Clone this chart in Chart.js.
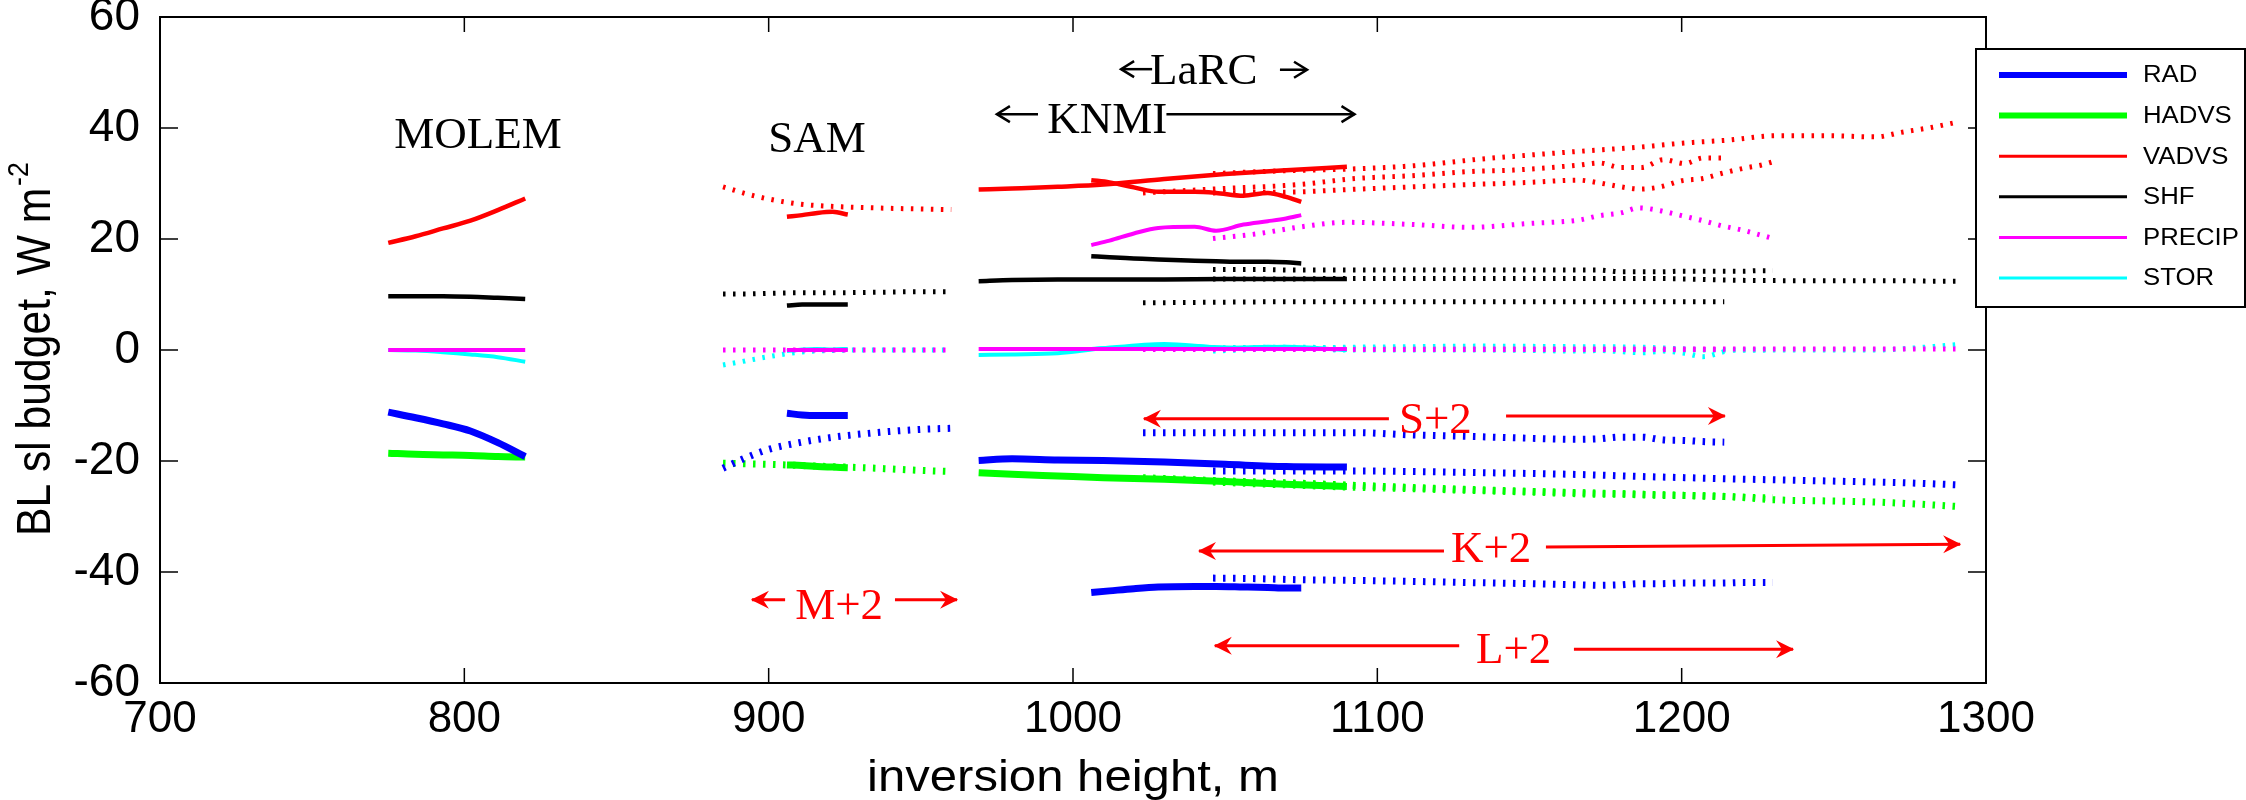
<!DOCTYPE html>
<html>
<head>
<meta charset="utf-8">
<script src="https://cdn.jsdelivr.net/npm/chart.js@4.4.1/dist/chart.umd.min.js"></script>
<style>
  html, body { margin: 0; padding: 0; background: #fff; }
  #wrap { width: 2246px; height: 800px; }
</style>
</head>
<body>
<div id="wrap"><canvas id="myChart"></canvas></div>
<script>
// inversion height (m) of each run and its budget terms (W m-2)
var molemX      = [775, 784, 793, 802, 811, 820];
var molemRAD    = [-11.2, -12.2, -13.3, -14.6, -16.7, -19.2];
var molemHADVS  = [-18.6, -18.8, -18.9, -19.0, -19.2, -19.3];
var molemVADVS  = [19.3, 20.5, 21.9, 23.3, 25.2, 27.3];
var molemSHF    = [9.7, 9.7, 9.7, 9.6, 9.4, 9.2];
var molemPRECIP = [0, 0, 0, 0, 0, 0];
var molemSTOR   = [0, -0.1, -0.4, -0.8, -1.3, -2.1];

var samX      = [906, 911, 916, 921, 926];
var samRAD    = [-11.4, -11.7, -11.8, -11.8, -11.8];
var samHADVS  = [-20.7, -20.8, -21.0, -21.1, -21.2];
var samVADVS  = [24.0, 24.3, 24.7, 24.9, 24.4];
var samSHF    = [8.0, 8.2, 8.2, 8.2, 8.2];
var samPRECIP = [0, 0, 0, 0, 0];
var samSTOR   = [-0.2, 0.1, 0.2, 0.1, 0.2];

var knmiX      = [969, 980, 995, 1010, 1030, 1050, 1070, 1090];
var knmiRAD    = [-19.9, -19.6, -19.8, -19.9, -20.2, -20.6, -21.0, -21.1];
var knmiHADVS  = [-22.1, -22.4, -22.7, -23.0, -23.3, -23.7, -24.2, -24.6];
var knmiVADVS  = [28.9, 29.1, 29.4, 29.8, 30.8, 31.7, 32.4, 33.0];
var knmiSHF    = [12.4, 12.6, 12.7, 12.7, 12.7, 12.8, 12.8, 12.8];
var knmiPRECIP = [0.2, 0.2, 0.2, 0.2, 0.2, 0.2, 0.2, 0.2];
var knmiSTOR   = [-0.9, -0.8, -0.6, 0.3, 1.1, 0.4, 0.6, 0.0];

var larcX      = [1006, 1012, 1020, 1028, 1040, 1047, 1056, 1064, 1070, 1075];
var larcRAD    = [-43.7, -43.4, -43.0, -42.7, -42.6, -42.6, -42.7, -42.8, -42.9, -42.9];
var larcVADVS  = [30.6, 30.2, 29.3, 28.5, 28.5, 28.3, 27.8, 28.3, 27.6, 26.7];
var larcSHF    = [16.9, 16.7, 16.5, 16.3, 16.1, 16.0, 15.9, 15.9, 15.8, 15.6];
var larcPRECIP = [18.9, 19.7, 21.0, 22.0, 22.2, 21.5, 22.6, 23.2, 23.7, 24.3];
var larcSTOR   = [0.2, 0.4, 0.6, 0.8, 0.7, 0.5, 0.4, 0.6, 0.5, 0.3];

// the +2 runs (dotted)
var m2X      = [885, 893, 900, 910, 920, 935, 950, 960];
var m2RAD    = [-21.3, -19.3, -17.9, -16.7, -15.8, -14.9, -14.3, -14.1];
var m2HADVS  = [-20.4, -20.5, -20.6, -20.8, -21.0, -21.3, -21.7, -21.9];
var m2VADVS  = [29.4, 28.1, 27.2, 26.3, 25.9, 25.6, 25.4, 25.3];
var m2SHF    = [10.1, 10.1, 10.2, 10.3, 10.3, 10.4, 10.5, 10.5];
var m2PRECIP = [0, 0, 0, 0, 0, 0, 0, 0];
var m2STOR   = [-2.7, -1.9, -1.2, -0.4, -0.1, 0, 0, 0];

var s2X      = [1023, 1046, 1074, 1093, 1111, 1132, 1144, 1166, 1173, 1180, 1187, 1194, 1201, 1207, 1214];
var s2RAD    = [-14.9, -14.9, -14.9, -14.9, -15.3, -15.6, -15.8, -16.1, -16.0, -15.7, -15.7, -16.2, -16.3, -16.5, -16.6];
var s2HADVS  = [-23.0, -23.5, -24.0, -24.4, -24.8, -25.2, -25.4, -25.7, -25.8, -25.9, -26.0, -26.1, -26.2, -26.3, -26.4];
var s2VADVS  = [28.3, 29.0, 29.8, 30.9, 31.4, 32.2, 32.4, 33.3, 33.7, 32.9, 32.9, 34.3, 33.6, 34.6, 34.6];
var s2SHF    = [8.5, 8.6, 8.7, 8.7, 8.7, 8.7, 8.7, 8.7, 8.7, 8.7, 8.7, 8.7, 8.7, 8.7, 8.7];
var s2PRECIP = [0.1, 0.1, 0.1, 0.1, 0.1, 0.1, 0.1, 0.1, 0.1, 0.1, 0.1, 0.1, 0.1, 0.1, 0.1];
var s2STOR   = [0.3, 0.4, 0.5, 0.3, 0.2, 0.1, 0, -0.2, -0.1, -0.3, -0.5, -0.2, -0.6, -1.2, -0.3];

var k2X      = [1046, 1070, 1091, 1112, 1134, 1164, 1187, 1201, 1215, 1231, 1248, 1264, 1272, 1282, 1291];
var k2RAD    = [-21.8, -21.8, -21.8, -21.9, -22.1, -22.4, -22.8, -23.0, -23.2, -23.4, -23.6, -23.8, -23.9, -24.1, -24.3];
var k2HADVS  = [-23.6, -24.0, -24.4, -24.8, -25.2, -25.7, -26.0, -26.2, -26.4, -27.0, -27.2, -27.4, -27.6, -27.9, -28.2];
var k2VADVS  = [31.8, 32.3, 32.6, 33.2, 34.4, 35.7, 36.6, 37.3, 37.8, 38.6, 38.6, 38.4, 39.2, 40.1, 41.1];
var k2SHF    = [12.8, 12.8, 12.9, 12.9, 12.9, 12.9, 12.9, 12.8, 12.6, 12.5, 12.5, 12.5, 12.5, 12.4, 12.4];
var k2PRECIP = [0.2, 0.2, 0.2, 0.2, 0.2, 0.2, 0.2, 0.2, 0.2, 0.2, 0.2, 0.2, 0.2, 0.2, 0.2];
var k2STOR   = [-0.2, 0.3, 0.5, 0.6, 0.7, 0.6, 0.5, 0.2, 0, 0, 0, 0, 0.2, 0.6, 1.0];

var l2X      = [1046, 1060, 1075, 1090, 1112, 1130, 1150, 1166, 1173, 1180, 1186, 1193, 1200, 1207, 1213, 1220, 1226, 1230];
var l2RAD    = [-41.1, -41.2, -41.4, -41.5, -41.7, -41.9, -42.1, -42.3, -42.4, -42.3, -42.1, -42.1, -42.0, -42.0, -42.0, -41.9, -41.9, -41.9];
var l2HADVS  = [-23.8, -24.1, -24.4, -24.7, -25.0, -25.3, -25.6, -25.9, -26.0, -26.0, -26.1, -26.2, -26.2, -26.3, -26.4, -26.5, -26.6, -26.6];
var l2VADVS  = [28.3, 28.4, 28.5, 28.9, 29.4, 29.8, 30.2, 30.6, 30.1, 29.4, 29.0, 29.4, 30.5, 30.9, 31.8, 32.7, 33.3, 33.9];
var l2SHF    = [14.5, 14.5, 14.4, 14.4, 14.4, 14.4, 14.4, 14.4, 14.4, 14.1, 14.1, 14.1, 14.2, 14.2, 14.2, 14.2, 14.3, 14.3];
var l2PRECIP = [20.1, 20.9, 22.2, 23.0, 22.6, 22.1, 22.8, 23.4, 24.2, 24.7, 25.6, 25.1, 24.2, 23.3, 22.4, 21.6, 20.7, 20.1];
var l2STOR   = [0.3, 0.4, 0.2, 0, 0, 0, 0, 0, 0, 0, 0, 0, 0, 0, 0, 0, 0, 0.1];

var terms = ['RAD', 'HADVS', 'VADVS', 'SHF', 'PRECIP', 'STOR'];
var xTicks = [700, 800, 900, 1000, 1100, 1200, 1300];
var yTicks = [-60, -40, -20, 0, 20, 40, 60];

var termColors = ["#0000ff", "#00ff00", "#ff0000", "#000000", "#ff00ff", "#00ffff"];
var solidWidths = [7, 7, 4.5, 4.5, 4, 4];
var dotWidths = [7, 7, 5, 5, 5, 5];

var solidRuns = [
  [molemX, [molemRAD, molemHADVS, molemVADVS, molemSHF, molemPRECIP, molemSTOR]],
  [samX, [samRAD, samHADVS, samVADVS, samSHF, samPRECIP, samSTOR]],
  [knmiX, [knmiRAD, knmiHADVS, knmiVADVS, knmiSHF, knmiPRECIP, knmiSTOR]],
  [larcX, [larcRAD, null, larcVADVS, larcSHF, larcPRECIP, larcSTOR]]
];
var dottedRuns = [
  [m2X, [m2RAD, m2HADVS, m2VADVS, m2SHF, m2PRECIP, m2STOR]],
  [s2X, [s2RAD, s2HADVS, s2VADVS, s2SHF, s2PRECIP, s2STOR]],
  [k2X, [k2RAD, k2HADVS, k2VADVS, k2SHF, k2PRECIP, k2STOR]],
  [l2X, [l2RAD, l2HADVS, l2VADVS, l2SHF, l2PRECIP, l2STOR]]
];

function pairs(xs, ys) {
  return xs.map(function (x, i) { return { x: x, y: ys[i] }; });
}

var datasets = [];
solidRuns.forEach(function (run) {
  run[1].forEach(function (vals, t) {
    if (!vals) return;
    datasets.push({
      label: terms[t], data: pairs(run[0], vals), showLine: true,
      borderColor: termColors[t], borderWidth: solidWidths[t],
      pointRadius: 0, cubicInterpolationMode: 'monotone'
    });
  });
});
dottedRuns.forEach(function (run) {
  run[1].forEach(function (vals, t) {
    datasets.push({
      label: terms[t] + ' +2', data: pairs(run[0], vals), showLine: true,
      borderColor: termColors[t], borderWidth: dotWidths[t],
      borderDash: [2.5, 7.5],
      pointRadius: 0, cubicInterpolationMode: 'monotone'
    });
  });
});

// labels and arrows, in data units
var labels = [
  { text: 'MOLEM', x: 804.5, y: 36.4, align: 'center', color: '#000' },
  { text: 'SAM', x: 915.9, y: 35.7, align: 'center', color: '#000' },
  { text: 'KNMI', x: 991.5, y: 39.1, align: 'left', color: '#000' },
  { text: 'LaRC', x: 1025.3, y: 47.9, align: 'left', color: '#000' },
  { text: 'S+2', x: 1107.1, y: -15.0, align: 'left', color: '#ff0000' },
  { text: 'K+2', x: 1124.2, y: -38.2, align: 'left', color: '#ff0000' },
  { text: 'L+2', x: 1132.4, y: -56.4, align: 'left', color: '#ff0000' },
  { text: 'M+2', x: 908.7, y: -48.5, align: 'left', color: '#ff0000' }
];
// [tail x, tail y, tip x, tip y, colour]
var arrows = [
  [988.5, 42.5, 975.0, 42.5, '#000'],
  [1030.7, 42.5, 1092.5, 42.5, '#000'],
  [1026.0, 50.6, 1015.8, 50.6, '#000'],
  [1068.0, 50.5, 1076.9, 50.5, '#000'],
  [1103.8, -12.4, 1023.3, -12.4, '#ff0000'],
  [1142.3, -11.9, 1214.2, -11.9, '#ff0000'],
  [1121.9, -36.2, 1041.4, -36.2, '#ff0000'],
  [1155.4, -35.5, 1291.5, -35.0, '#ff0000'],
  [1126.9, -53.3, 1046.6, -53.3, '#ff0000'],
  [1164.6, -53.9, 1236.6, -53.9, '#ff0000'],
  [905.4, -45.0, 894.5, -45.0, '#ff0000'],
  [941.5, -45.0, 961.9, -45.0, '#ff0000']
];

var sans = "'Liberation Sans', Arial, Helvetica, sans-serif";
var serif = "'Liberation Serif', 'Times New Roman', serif";

function drawArrow(ctx, x1, y1, x2, y2, color) {
  var ang = Math.atan2(y2 - y1, x2 - x1);
  ctx.save();
  ctx.strokeStyle = color;
  ctx.fillStyle = color;
  ctx.lineWidth = color === '#000' ? 2.5 : 3;
  ctx.beginPath();
  ctx.moveTo(x1, y1);
  ctx.lineTo(x2, y2);
  ctx.stroke();
  ctx.translate(x2, y2);
  ctx.rotate(ang);
  if (color === '#000') {
    ctx.beginPath();
    ctx.moveTo(-13, -8);
    ctx.lineTo(0, 0);
    ctx.lineTo(-13, 8);
    ctx.stroke();
  } else {
    ctx.beginPath();
    ctx.moveTo(1, 0);
    ctx.lineTo(-17, -9);
    ctx.lineTo(-11, 0);
    ctx.lineTo(-17, 9);
    ctx.closePath();
    ctx.fill();
  }
  ctx.restore();
}

function stretchedText(ctx, text, x, y, width) {
  var w = ctx.measureText(text).width;
  ctx.save();
  ctx.translate(x, y);
  ctx.scale(width / w, 1);
  ctx.fillText(text, -w / 2, 0);
  ctx.restore();
}

var decorations = {
  id: 'decorations',
  afterDraw: function (chart) {
    var ctx = chart.ctx, a = chart.chartArea;
    var xs = chart.scales.x, ys = chart.scales.y;
    ctx.save();

    // frame with inward ticks on all sides
    ctx.strokeStyle = '#000';
    ctx.lineWidth = 1.5;
    ctx.beginPath();
    xTicks.forEach(function (v) {
      var px = xs.getPixelForValue(v);
      ctx.moveTo(px, a.top); ctx.lineTo(px, a.top + 15);
      ctx.moveTo(px, a.bottom); ctx.lineTo(px, a.bottom - 15);
    });
    yTicks.forEach(function (v) {
      var py = ys.getPixelForValue(v);
      ctx.moveTo(a.left, py); ctx.lineTo(a.left + 18, py);
      ctx.moveTo(a.right, py); ctx.lineTo(a.right - 18, py);
    });
    ctx.stroke();
    ctx.lineWidth = 2;
    ctx.strokeRect(a.left, a.top, a.right - a.left, a.bottom - a.top);

    // run labels and arrows
    ctx.font = '45px ' + serif;
    ctx.textBaseline = 'alphabetic';
    labels.forEach(function (l) {
      ctx.fillStyle = l.color;
      ctx.textAlign = l.align;
      ctx.fillText(l.text, xs.getPixelForValue(l.x), ys.getPixelForValue(l.y));
    });
    arrows.forEach(function (r) {
      drawArrow(ctx, xs.getPixelForValue(r[0]), ys.getPixelForValue(r[1]),
        xs.getPixelForValue(r[2]), ys.getPixelForValue(r[3]), r[4]);
    });

    // axis titles
    ctx.fillStyle = '#000';
    ctx.textAlign = 'left';
    ctx.font = '44px ' + sans;
    stretchedText(ctx, 'inversion height, m', (a.left + a.right) / 2, 791, 412);

    ctx.save();
    ctx.translate(50, (a.top + a.bottom) / 2);
    ctx.rotate(-Math.PI / 2);
    ctx.font = '48px ' + sans;
    var main = 'BL sl budget, W m';
    var w1 = ctx.measureText(main).width;
    ctx.font = '30px ' + sans;
    var w2 = ctx.measureText('-2').width;
    var total = w1 + w2;
    ctx.scale(372 / total, 1);
    ctx.font = '48px ' + sans;
    ctx.fillText(main, -total / 2, 0);
    ctx.font = '30px ' + sans;
    ctx.fillText('-2', -total / 2 + w1 + 2, -22);
    ctx.restore();

    // legend box
    var bx = 1976, by = 49, bw = 269, bh = 258;
    ctx.fillStyle = '#fff';
    ctx.fillRect(bx, by, bw, bh);
    ctx.strokeStyle = '#000';
    ctx.lineWidth = 2;
    ctx.strokeRect(bx, by, bw, bh);
    ctx.font = '23px ' + sans;
    ctx.textBaseline = 'middle';
    terms.forEach(function (t, i) {
      var ly = 75 + i * 40.6;
      ctx.strokeStyle = termColors[i];
      ctx.lineWidth = i < 2 ? 6 : 3;
      ctx.beginPath();
      ctx.moveTo(1999, ly);
      ctx.lineTo(2127, ly);
      ctx.stroke();
      ctx.fillStyle = '#000';
      ctx.save();
      ctx.translate(2143, ly + 1);
      ctx.scale(1.12, 1);
      ctx.fillText(t, 0, 0);
      ctx.restore();
    });
    ctx.restore();
  }
};

var ctx = document.getElementById('myChart').getContext('2d');
var myChart = new Chart(ctx, {
  type: 'scatter',
  data: { datasets: datasets },
  options: {
    responsive: true,
    maintainAspectRatio: false,
    animation: false,
    events: [],
    layout: { padding: { left: 0, right: 260, top: 17, bottom: 0 } },
    plugins: { legend: { display: false }, tooltip: { enabled: false } },
    scales: {
      x: {
        type: 'linear', min: 700, max: 1300,
        grid: { display: false }, border: { display: false },
        ticks: {
          stepSize: 100, padding: 2, color: '#000', font: { family: sans, size: 44 },
          callback: function (v) { return String(v); }
        },
        afterFit: function (s) { s.height = 117; s.paddingLeft = 0; s.paddingRight = 0; }
      },
      y: {
        min: -60, max: 60,
        grid: { display: false }, border: { display: false },
        ticks: {
          stepSize: 20, padding: 12, color: '#000', font: { family: sans, size: 46 },
          callback: function (v) { return String(v); }
        },
        afterFit: function (s) { s.width = 160; s.paddingTop = 0; s.paddingBottom = 0; }
      }
    }
  },
  plugins: [decorations]
});
</script>
</body>
</html>
